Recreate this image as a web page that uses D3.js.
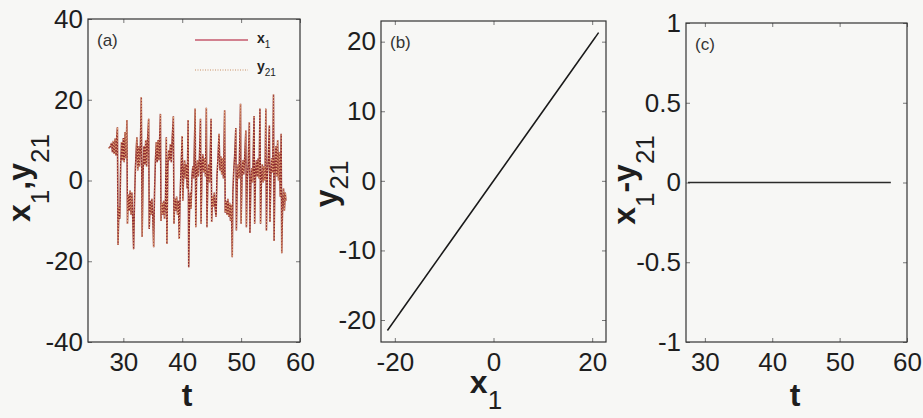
<!DOCTYPE html>
<html>
<head>
<meta charset="utf-8">
<script src="https://cdn.jsdelivr.net/npm/d3@7"></script>
<style>
  html, body { margin: 0; padding: 0; background: #f7f7f5; }
  svg { display: block; }
  text { font-family: "Liberation Sans", Arial, sans-serif; }
</style>
</head>
<body>
<svg id="viz"></svg>
<script>
(function () {
  'use strict';

  // time samples
  const t = [
    27.5, 27.8, 28.0, 28.15, 28.3, 28.45, 28.6, 28.75, 28.9, 29.0, 29.1, 29.25, 29.4, 29.55, 29.7, 29.85,
    30.0, 30.15, 30.3, 30.45, 30.6, 30.7, 30.85, 31.0, 31.15, 31.3, 31.45, 31.6, 31.75, 31.9, 32.05, 32.2,
    32.3, 32.45, 32.6, 32.75, 32.9, 33.05, 33.2, 33.35, 33.5, 33.65, 33.8, 33.95, 34.1, 34.3, 34.4, 34.55,
    34.7, 34.85, 35.0, 35.15, 35.3, 35.45, 35.6, 35.75, 35.9, 36.05, 36.3, 36.4, 36.55, 36.7, 36.85, 37.0,
    37.15, 37.3, 37.4, 37.55, 37.7, 37.85, 38.0, 38.15, 38.3, 38.5, 38.6, 38.75, 38.9, 39.05, 39.2, 39.35,
    39.5, 39.65, 39.8, 40.0, 40.1, 40.25, 40.4, 40.55, 40.7, 40.85, 41.0, 41.1, 41.25, 41.4, 41.5, 41.65,
    41.8, 41.95, 42.2, 42.3, 42.45, 42.6, 42.75, 42.9, 43.1, 43.2, 43.35, 43.5, 43.65, 43.8, 43.95, 44.1,
    44.2, 44.35, 44.5, 44.65, 44.9, 45.0, 45.15, 45.3, 45.45, 45.6, 45.75, 45.9, 46.05, 46.25, 46.4, 46.55,
    46.7, 46.85, 47.0, 47.2, 47.3, 47.45, 47.6, 47.75, 47.9, 48.05, 48.2, 48.35, 48.5, 48.6, 48.75, 48.9,
    49.1, 49.2, 49.35, 49.5, 49.65, 49.9, 50.0, 50.15, 50.3, 50.45, 50.6, 50.8, 50.9, 51.05, 51.2, 51.4,
    51.5, 51.65, 51.8, 51.95, 52.2, 52.3, 52.45, 52.6, 52.75, 52.9, 53.05, 53.2, 53.3, 53.45, 53.6, 53.75,
    53.9, 54.05, 54.2, 54.3, 54.45, 54.6, 54.8, 54.9, 55.05, 55.2, 55.35, 55.5, 55.6, 55.75, 55.9, 56.05,
    56.2, 56.35, 56.5, 56.65, 56.8, 56.9, 57.05, 57.2, 57.35, 57.5, 57.6
  ];

  // drive signal x1
  const x1 = [
    8.0, 8.4, 9.3, 7.0, 9.8, 6.6, 10.4, 6.2, 11.5, 13.2, -16.0, -6.5, -9.5, 4.0, 9.5, 5.0,
    10.5, 4.5, 12.0, 5.5, 15.0, -10.7, -3.5, -7.5, -2.5, -8.5, -3.0, -9.5, -17.0, -5.0, 3.0, 8.0,
    10.7, 2.5, 8.5, 3.5, 9.0, 20.6, -14.0, 1.5, 8.5, 4.0, 10.0, 3.5, 9.5, 15.3, -12.0, -5.0,
    -8.5, -4.5, -9.0, -16.5, -3.0, 5.0, 9.5, 4.5, 10.0, 5.0, 16.5, -10.0, -5.5, -8.5, -5.0, -9.5,
    -6.0, 10.7, -15.7, 3.0, 7.5, 5.0, 9.0, 4.5, 10.5, 15.9, -10.7, -4.5, -7.5, -4.0, -8.5, -5.0,
    -14.5, -3.5, 3.0, 11.0, -5.0, 1.5, 5.0, 0.5, 4.0, -2.0, 15.0, -21.5, -6.0, -3.0, -7.0, 1.0,
    3.5, 0.5, 17.8, -11.6, 2.0, 5.0, 1.0, 4.5, 15.3, -10.7, 3.0, 6.5, 2.0, 5.5, 1.0, 18.0,
    -11.6, 0.5, 4.0, -0.5, 15.3, -10.3, -4.0, -6.5, -3.0, -7.0, -9.0, 1.0, 5.0, 11.6, 2.5, 6.0,
    1.5, 5.5, 0.5, 17.4, -8.0, -5.0, -8.5, -4.5, -9.0, -5.5, -10.0, -6.0, -19.0, -3.0, 2.5, 6.0,
    13.0, -12.4, 0.0, 4.0, 0.5, 19.0, -10.7, 1.0, 5.0, 1.5, 5.5, 12.4, -11.6, 0.5, 4.0, 14.4,
    -13.0, -1.0, 3.0, -0.5, 16.0, -10.7, 1.5, 5.0, 1.0, 5.5, 0.5, 17.8, -10.7, 0.0, 4.0, -0.5,
    3.5, 0.0, 17.8, -12.4, 1.5, 5.0, 13.6, -10.3, 1.0, 5.5, 2.0, 21.3, -15.0, 2.0, 8.5, 1.0,
    10.0, 0.0, 7.0, -4.0, 11.6, -18.0, -6.0, -2.0, -7.5, -3.0, -5.0
  ];

  // response y21 sits right on top of x1 (complete synchronisation)
  const y21 = x1.slice();

  const ticksA = { x: [30, 40, 50, 60], y: [-40, -20, 0, 20, 40] };
  const ticksB = { x: [-20, 0, 20], y: [-20, -10, 0, 10, 20] };
  const ticksC = { x: [30, 40, 50, 60], y: [-1, -0.5, 0, 0.5, 1] };

  const width = 923;
  const height = 418;
  const fmt = d => String(d);

  const svg = d3.select('#viz')
    .attr('width', width)
    .attr('height', height);

  svg.append('rect')
    .attr('width', width)
    .attr('height', height)
    .attr('fill', '#f7f7f5');

  // one matlab-style box with inward ticks on all four sides
  function panel(box, xDomain, yDomain, ticks, tag) {
    const x = d3.scaleLinear().domain(xDomain).range([box.left, box.right]);
    const y = d3.scaleLinear().domain(yDomain).range([box.bottom, box.top]);

    const g = svg.append('g');

    g.append('g')
      .attr('transform', `translate(0,${box.bottom})`)
      .call(d3.axisBottom(x).tickValues(ticks.x).tickFormat(fmt).tickSizeInner(-4).tickSizeOuter(0).tickPadding(11));
    g.append('g')
      .attr('transform', `translate(0,${box.top})`)
      .call(d3.axisTop(x).tickValues(ticks.x).tickFormat('').tickSizeInner(-4).tickSizeOuter(0));
    g.append('g')
      .attr('transform', `translate(${box.left},0)`)
      .call(d3.axisLeft(y).tickValues(ticks.y).tickFormat(fmt).tickSizeInner(-4).tickSizeOuter(0).tickPadding(5));
    g.append('g')
      .attr('transform', `translate(${box.right},0)`)
      .call(d3.axisRight(y).tickValues(ticks.y).tickFormat('').tickSizeInner(-4).tickSizeOuter(0));

    g.selectAll('.domain').remove();
    g.selectAll('.tick line').attr('stroke', '#777');
    g.selectAll('.tick text')
      .attr('fill', '#1e1e1e')
      .style('font-size', '26px');

    g.append('rect')
      .attr('x', box.left)
      .attr('y', box.top)
      .attr('width', box.right - box.left)
      .attr('height', box.bottom - box.top)
      .attr('fill', 'none')
      .attr('stroke', '#333')
      .attr('stroke-width', 1.2);

    g.append('text')
      .attr('x', box.left + 9)
      .attr('y', box.top + 27)
      .attr('fill', '#333')
      .style('font-size', '17px')
      .text(tag);

    return { g, x, y };
  }

  // label with subscripts: parts = [[text, isSub], ...]
  function label(parent, parts, attrs, subShift) {
    const txt = parent.append('text')
      .attr('fill', '#1e1e1e')
      .attr('text-anchor', 'middle');
    Object.keys(attrs).forEach(k => txt.attr(k, attrs[k]));
    let shifted = 0;
    parts.forEach(p => {
      const sp = txt.append('tspan').text(p[0]);
      if (p[1]) {
        sp.style('font-size', '26px').style('font-weight', 'normal');
        if (!shifted) { sp.attr('dy', subShift); shifted = subShift; }
      } else {
        sp.style('font-size', '32px').style('font-weight', 'bold');
        if (shifted) { sp.attr('dy', -shifted); shifted = 0; }
      }
    });
    return txt;
  }

  const series = t.map((d, i) => ({ t: d, x1: x1[i], y21: y21[i] }));

  // (a) time series
  const a = panel({ left: 88, right: 300, top: 19, bottom: 342 }, [24, 60], [-40, 40], ticksA, '(a)');

  a.g.append('path')
    .datum(series)
    .attr('fill', 'none')
    .attr('stroke', '#8e2a2e')
    .attr('stroke-width', 1.5)
    .attr('d', d3.line().x(d => a.x(d.t)).y(d => a.y(d.x1)));
  a.g.append('path')
    .datum(series)
    .attr('fill', 'none')
    .attr('stroke', '#e3a676')
    .attr('stroke-width', 1.3)
    .attr('stroke-dasharray', '1,2')
    .attr('d', d3.line().x(d => a.x(d.t)).y(d => a.y(d.y21)));

  // legend
  const leg = a.g.append('g');
  leg.append('line')
    .attr('x1', 195).attr('x2', 248).attr('y1', 40).attr('y2', 40)
    .attr('stroke', '#c65a6c').attr('stroke-width', 1.3);
  leg.append('line')
    .attr('x1', 195).attr('x2', 248).attr('y1', 70).attr('y2', 70)
    .attr('stroke', '#d9b394').attr('stroke-width', 1.3).attr('stroke-dasharray', '1,1.5');
  const legText = [['x', '1', 43], ['y', '21', 71]];
  legText.forEach(l => {
    const tx = leg.append('text').attr('x', 257).attr('y', l[2]).attr('fill', '#222');
    tx.append('tspan').text(l[0]).style('font-size', '14px').style('font-weight', 'bold');
    tx.append('tspan').text(l[1]).attr('dy', 5).style('font-size', '10px');
  });

  label(a.g, [['x', 0], ['1', 1], [',', 0], ['y', 0], ['21', 1]],
    { transform: 'translate(30,178) rotate(-90)' }, 19);
  label(a.g, [['t', 0]], { x: 187, y: 406 }, 0);

  // (b) x1 against y21
  const b = panel({ left: 381, right: 606, top: 21, bottom: 342 }, [-22.8, 22.8], [-23.16, 22.97], ticksB, '(b)');
  b.g.append('path')
    .datum(series)
    .attr('fill', 'none')
    .attr('stroke', '#1a1a1a')
    .attr('stroke-width', 1.5)
    .attr('d', d3.line().x(d => b.x(d.x1)).y(d => b.y(d.y21)));

  label(b.g, [['y', 0], ['21', 1]], { transform: 'translate(337,184) rotate(-90)' }, 11);
  label(b.g, [['x', 0], ['1', 1]], { x: 486, y: 393 }, 16);

  // (c) synchronisation error
  const c = panel({ left: 686, right: 907, top: 23, bottom: 342 }, [27.2, 60], [-1, 1], ticksC, '(c)');
  c.g.append('path')
    .datum(series)
    .attr('fill', 'none')
    .attr('stroke', '#2a2a2a')
    .attr('stroke-width', 1.6)
    .attr('d', d3.line().x(d => c.x(d.t)).y(d => c.y(d.x1 - d.y21)));

  label(c.g, [['x', 0], ['1', 1], ['-', 0], ['y', 0], ['21', 1]],
    { transform: 'translate(635,180) rotate(-90)' }, 19);
  label(c.g, [['t', 0]], { x: 795, y: 406 }, 0);

}());
</script>
</body>
</html>
